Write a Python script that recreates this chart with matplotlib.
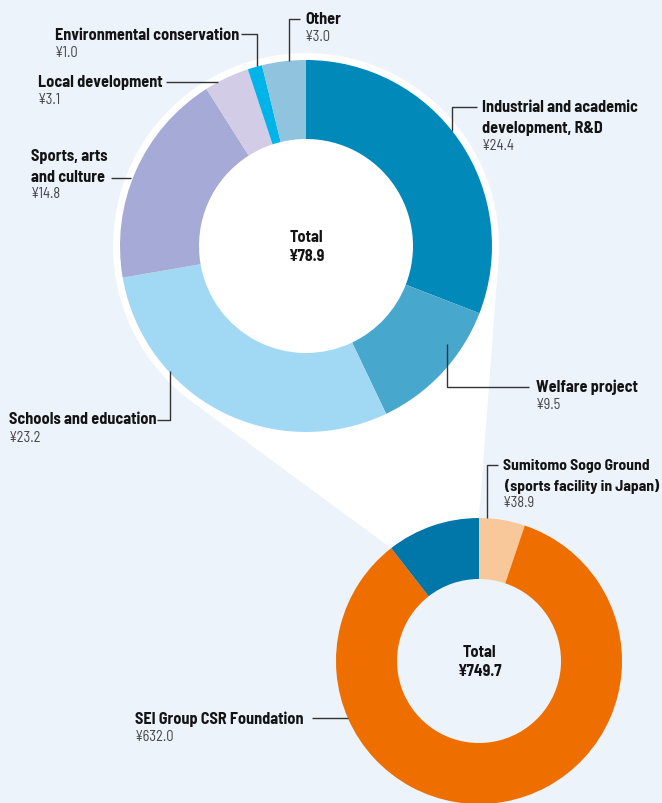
import numpy as np
import matplotlib
matplotlib.use("Agg")
import matplotlib.pyplot as plt
from matplotlib.patches import Circle, Polygon

# Breakdown of contributions (¥ million)
top_labels = ["Industrial and academic\ndevelopment, R&D", "Welfare project",
              "Schools and education", "Sports, arts\nand culture",
              "Local development", "Environmental conservation", "Other"]
top_values = [24.4, 9.5, 23.2, 14.8, 3.1, 1.0, 3.0]
top_colors = ["#0089b9", "#47a7cc", "#a1d9f4", "#a5aad6", "#d3cce6", "#00b4e9", "#8fc3de"]
top_total = 78.9

bottom_labels = ["Sumitomo Sogo Ground\n(sports facility in Japan)",
                 "SEI Group CSR Foundation", "Contributions"]
bottom_values = [38.9, 632.0, 78.9]
bottom_colors = ["#f8c89b", "#ee6e00", "#0076a9"]
bottom_total = 749.7

BG = "#edf3fa"
W, H = 662, 804

fig = plt.figure(figsize=(W / 100, H / 100), dpi=100)
fig.patch.set_facecolor(BG)
ax = fig.add_axes([0, 0, 1, 1])
ax.set_facecolor(BG)

FONT = ["Barlow Semi Condensed", "DejaVu Sans"]


def Y(y):
    return H - y


# Geometry of the two rings
top_c = (306, Y(247))
top_r, top_w = 186, 79
halo_r = 193
bot_c = (479, Y(662))
bot_r, bot_w = 143, 61

# White funnel linking the "Contributions" slice to the upper ring
start = 90.0
frac = bottom_values[-1] / sum(bottom_values)
a_left = np.deg2rad(start + 360 * frac)
a_right = np.deg2rad(start)
pL = np.array([bot_c[0] + bot_r * np.cos(a_left), bot_c[1] + bot_r * np.sin(a_left)])
pR = np.array([bot_c[0] + bot_r * np.cos(a_right), bot_c[1] + bot_r * np.sin(a_right)])


def tangent(p, side):
    c = np.array(top_c, dtype=float)
    v = p - c
    d = np.hypot(*v)
    th = np.arctan2(v[1], v[0])
    al = np.arccos(halo_r / d)
    pts = [c + halo_r * np.array([np.cos(th + s * al), np.sin(th + s * al)]) for s in (1, -1)]
    return min(pts, key=lambda q: q[0]) if side == "left" else max(pts, key=lambda q: q[0])


tL = tangent(pL, "left")
tR = tangent(pR, "right")
ax.add_patch(Polygon([tL, pL, pR, tR], closed=True, facecolor="white", edgecolor="none", zorder=1))
ax.add_patch(Circle(top_c, halo_r, facecolor="white", edgecolor="none", zorder=1))

ax.pie(top_values, colors=top_colors, startangle=90, counterclock=False,
       radius=top_r, center=top_c, frame=True,
       wedgeprops=dict(width=top_w, linewidth=0, zorder=2))
ax.pie(bottom_values, colors=bottom_colors, startangle=90, counterclock=False,
       radius=bot_r, center=bot_c, frame=True,
       wedgeprops=dict(width=bot_w, linewidth=0, zorder=2))

ax.set_xlim(0, W)
ax.set_ylim(0, H)
ax.set_aspect("equal")
ax.axis("off")

LC = "#333333"
NAME_FS = 11.6
VALUE_FS = 10.4
LINE_GAP = 20.5


def leader(points):
    xs = [p[0] for p in points]
    ys = [Y(p[1]) for p in points]
    ax.plot(xs, ys, color=LC, lw=1.0, zorder=3, solid_capstyle="butt")


def label(x, y, name, value, dy=18, fs=NAME_FS, indent=0):
    lines = name.split("\n")
    for i, line in enumerate(lines):
        lx = x + (indent if i > 0 else 0)
        ax.text(lx, Y(y + i * LINE_GAP), line, ha="left", va="center", fontsize=fs,
                fontweight=700, family=FONT, color="#141414", zorder=4)
    vy = y + (len(lines) - 1) * LINE_GAP + dy
    ax.text(x, Y(vy), value, ha="left", va="center", fontsize=VALUE_FS,
            family=FONT, color="#444444", zorder=4)


def yen(v):
    return f"¥{v:.1f}"


# Upper ring annotations
label(482, 108, top_labels[0], yen(top_values[0]), dy=17)
leader([(452, 132), (452, 108), (477, 108)])

label(536, 387, top_labels[1], yen(top_values[1]))
leader([(447, 345), (447, 388), (529, 388)])

label(9, 420, top_labels[2], yen(top_values[2]))
leader([(157, 421), (170, 421), (170, 372)])

label(31, 157, top_labels[3], yen(top_values[3]), dy=17)
leader([(111, 179), (131, 179)])

label(38, 82, top_labels[4], yen(top_values[4]))
leader([(166, 83), (218, 83)])

label(55, 35, top_labels[5], yen(top_values[5]))
leader([(241, 35), (257, 35), (257, 67)])

label(305, 20, top_labels[6], yen(top_values[6]), dy=17)
leader([(300, 20), (289, 20), (289, 62)])

# Lower ring annotations
label(503, 466, bottom_labels[0], yen(bottom_values[0]), dy=17, fs=11.2, indent=2)
leader([(498, 466), (487, 466), (487, 519)])

label(135, 719, bottom_labels[1], yen(bottom_values[1]))
leader([(312, 719), (348, 719)])

# Centre totals
for c, tot in ((top_c, top_total), (bot_c, bottom_total)):
    ax.text(c[0], c[1] + 9.5, "Total", ha="center", va="center",
            fontsize=NAME_FS, fontweight=700, family=FONT, color="#141414", zorder=4)
    ax.text(c[0], c[1] - 9.5, yen(tot), ha="center", va="center",
            fontsize=NAME_FS, fontweight=700, family=FONT, color="#141414", zorder=4)

fig.savefig("out.png", dpi=100, facecolor=BG)
